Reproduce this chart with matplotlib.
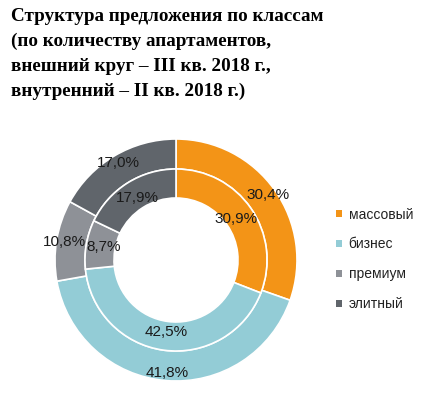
import numpy as np
import matplotlib.pyplot as plt
from matplotlib.patches import Patch

# -------------------------------
# Data
# -------------------------------
classes = ['массовый', 'бизнес', 'премиум', 'элитный']
q3_2018 = [30.4, 41.8, 10.8, 17.0]   # outer ring
q2_2018 = [30.9, 42.5, 8.7, 17.9]    # inner ring
colors = ['#F39417', '#93CCD6', '#8E9197', '#60656B']

title = ('Структура предложения по классам\n'
         '(по количеству апартаментов,\n'
         'внешний круг – III кв. 2018 г.,\n'
         'внутренний – II кв. 2018 г.)')

# -------------------------------
# Figure
# -------------------------------
W, H = 439, 393
fig = plt.figure(figsize=(W / 100, H / 100), dpi=100)

# axes 300x300 px centred on the donut centre (176, 260)
cx, cy, half = 176, 260, 150
ax = fig.add_axes([(cx - half) / W, (H - cy - half) / H, 2 * half / W, 2 * half / H])

r_out, r_mid, r_in = 1.21, 0.91, 0.62
wp = dict(edgecolor='white', linewidth=1.2)

outer, _ = ax.pie(q3_2018, radius=r_out, colors=colors, startangle=90,
                  counterclock=False, wedgeprops=dict(width=r_out - r_mid, **wp))
inner, _ = ax.pie(q2_2018, radius=r_mid, colors=colors, startangle=90,
                  counterclock=False, wedgeprops=dict(width=r_mid - r_in, **wp))
for w in outer + inner:
    w.set_clip_on(False)

# pie() resets the limits, so set them afterwards
ax.set_xlim(-1.5, 1.5)
ax.set_ylim(-1.5, 1.5)
ax.set_aspect('equal')
ax.axis('off')


def put_labels(wedges, values, dist):
    for w, v in zip(wedges, values):
        ang = np.deg2rad((w.theta1 + w.theta2) / 2)
        ax.text(dist * np.cos(ang), dist * np.sin(ang), f'{v:.1f}%'.replace('.', ','),
                ha='center', va='center', fontsize=11, color='#1a1a1a',
                family='Liberation Sans', clip_on=False)


put_labels(outer, q3_2018, 1.13)
put_labels(inner, q2_2018, 0.73)

# -------------------------------
# Title
# -------------------------------
fig.text(11 / W, 1 - 8 / H, title, ha='left', va='top', fontsize=13.8,
         fontweight='bold', family='Liberation Serif', linespacing=1.58)

# -------------------------------
# Legend
# -------------------------------
handles = [Patch(facecolor=c, edgecolor='none') for c in colors]
fig.legend(handles, classes, loc='upper left', bbox_to_anchor=(323 / W, 1 - 195 / H),
           frameon=False, prop={'family': 'Liberation Sans', 'size': 10},
           handlelength=0.45, handleheight=0.45, handletextpad=0.5,
           labelspacing=1.15, labelcolor='#222222')

fig.savefig('out.png', dpi=100)
